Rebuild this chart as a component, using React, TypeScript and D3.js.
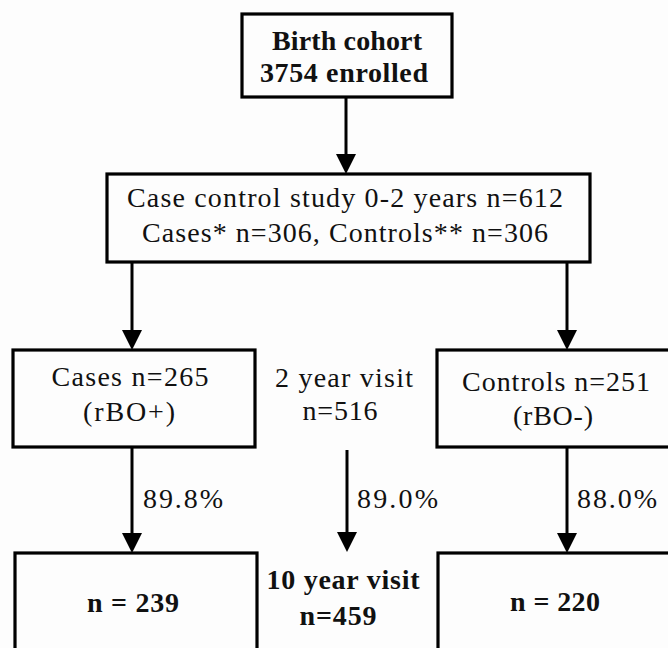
import * as d3 from "d3";

// ---- data ----
const cohortLines = ["Birth cohort", "3754 enrolled"];
const studyLines = ["Case control study 0-2 years n=612", "Cases* n=306, Controls** n=306"];
const casesLines = ["Cases n=265", "(rBO+)"];
const controlsLines = ["Controls n=251", "(rBO-)"];
const visit2Lines = ["2 year visit", "n=516"];
const visit10Lines = ["10 year visit", "n=459"];
const cases10Lines = ["n = 239"];
const controls10Lines = ["n = 220"];
const retentionLabels = ["89.8%", "89.0%", "88.0%"];

// ---- layout ----
const W = 668;
const H = 648;
const FS = 28;

interface Box { x0: number; x1: number; y0: number; y1: number }
interface Label { text: string; cx: number; y: number; w: number; bold?: boolean; anchor?: "start" | "middle" }

const boxes: Box[] = [
  { x0: 242, x1: 452, y0: 14, y1: 97 },
  { x0: 107, x1: 590, y0: 174, y1: 262 },
  { x0: 13, x1: 255, y0: 350, y1: 447 },
  { x0: 437, x1: 676, y0: 350, y1: 447 },
  { x0: 15, x1: 257, y0: 553, y1: 670 },
  { x0: 438, x1: 676, y0: 553, y1: 670 },
];

const arrows = [
  { x: 346, y0: 97, y1: 174 },
  { x: 132, y0: 262, y1: 350 },
  { x: 567, y0: 262, y1: 350 },
  { x: 132, y0: 447, y1: 553 },
  { x: 347, y0: 450, y1: 552 },
  { x: 567, y0: 447, y1: 553 },
];

// w = horizontal extent of each label as measured on the reference
const labels: Label[] = [
  { text: cohortLines[0], cx: 347, y: 50, w: 150, bold: true },
  { text: cohortLines[1], cx: 344, y: 82, w: 168, bold: true },
  { text: studyLines[0], cx: 345, y: 207, w: 436 },
  { text: studyLines[1], cx: 345, y: 242, w: 406 },
  { text: casesLines[0], cx: 130, y: 386, w: 157 },
  { text: casesLines[1], cx: 129, y: 421, w: 92 },
  { text: controlsLines[0], cx: 556, y: 391, w: 188 },
  { text: controlsLines[1], cx: 553, y: 425, w: 80 },
  { text: visit2Lines[0], cx: 344, y: 387, w: 138 },
  { text: visit2Lines[1], cx: 340, y: 420, w: 75 },
  { text: retentionLabels[0], cx: 143, y: 508, w: 80, anchor: "start" },
  { text: retentionLabels[1], cx: 357, y: 508, w: 81, anchor: "start" },
  { text: retentionLabels[2], cx: 577, y: 508, w: 80, anchor: "start" },
  { text: visit10Lines[0], cx: 343, y: 589, w: 153, bold: true },
  { text: visit10Lines[1], cx: 338, y: 625, w: 77, bold: true },
  { text: cases10Lines[0], cx: 133, y: 612, w: 92, bold: true },
  { text: controls10Lines[0], cx: 555, y: 611, w: 90, bold: true },
];

const headLen = 20;
const headHalf = 10;

const headPath = (a: { x: number; y1: number }) => {
  const p = d3.path();
  p.moveTo(a.x - headHalf, a.y1 - headLen);
  p.lineTo(a.x + headHalf, a.y1 - headLen);
  p.lineTo(a.x, a.y1);
  p.closePath();
  return p.toString();
};

export default function App() {
  return (
    <svg width={W} height={H} style={{ position: "absolute", left: 0, top: 0 }}>
      <rect width={W} height={H} fill="#fdfdfd" />
      {boxes.map((b, i) => (
        <rect
          key={`b${i}`}
          x={b.x0}
          y={b.y0}
          width={b.x1 - b.x0}
          height={b.y1 - b.y0}
          fill="none"
          stroke="#000"
          strokeWidth={3.2}
        />
      ))}
      {arrows.map((a, i) => (
        <g key={`a${i}`}>
          <line x1={a.x} x2={a.x} y1={a.y0} y2={a.y1 - headLen + 2} stroke="#000" strokeWidth={3} />
          <path d={headPath(a)} fill="#000" />
        </g>
      ))}
      {labels.map((d, i) => (
        <text
          key={`t${i}`}
          x={d.anchor === "start" ? d.cx : d.cx - d.w / 2}
          y={d.y}
          textLength={d.w}
          lengthAdjust="spacing"
          fontFamily='"Liberation Serif"'
          fontSize={FS}
          fontWeight={d.bold ? 700 : 400}
          fill="#111"
        >
          {d.text}
        </text>
      ))}
    </svg>
  );
}
